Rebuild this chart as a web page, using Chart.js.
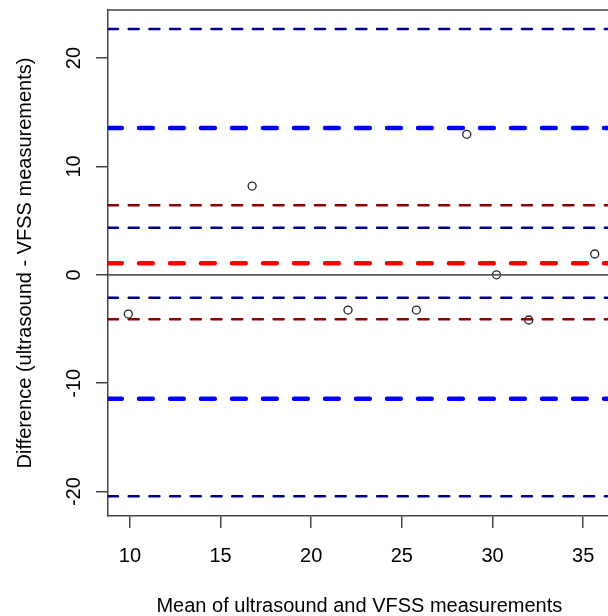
<!DOCTYPE html>
<html>
<head>
<meta charset="utf-8">
<script src="https://cdn.jsdelivr.net/npm/chart.js@4.4.1/dist/chart.umd.min.js"></script>
<style>
  html, body { margin: 0; padding: 0; background: #fff; }
  #wrap { width: 608px; height: 616px; overflow: hidden; position: relative; }
  canvas { display: block; }
</style>
</head>
<body>
<div id="wrap"><canvas id="chart" width="616" height="616"></canvas></div>
<script>
// Bland-Altman data: mean vs difference
const meanVals = [9.91, 16.74, 22.03, 25.80, 28.58, 30.22, 32.00, 35.64];
const diffVals = [-3.62, 8.19, -3.25, -3.25, 12.96, 0.0, -4.17, 1.92];

// horizontal reference lines
const zeroLine = [0];
const biasLine = [1.06];
const loaLines = [13.54, -11.43];
const biasCiLines = [6.41, -4.11];
const loaCiLines = [22.68, 4.35, -2.11, -20.43];

// axes
const xTicks = [10, 15, 20, 25, 30, 35];
const yTicks = [-20, -10, 0, 10, 20];
const xRange = [8.79, 36.52];
const yRange = [-22.25, 24.43];
const xTitle = 'Mean of ultrasound and VFSS measurements';
const yTitle = 'Difference (ultrasound - VFSS measurements)';

const FONT = '20px "Liberation Sans", Arial, sans-serif';
const AXIS_COLOR = '#444';

function hLines(values, color, width, dash) {
  return values.map(v => ({
    type: 'line',
    data: [{ x: xRange[0], y: v }, { x: xRange[1], y: v }],
    borderColor: color,
    borderWidth: width,
    borderDash: dash,
    borderCapStyle: 'round',
    pointRadius: 0,
    fill: false,
    order: 0
  }));
}

const textPlugin = {
  id: 'rText',
  afterDraw(chart) {
    const ctx = chart.ctx;
    const area = chart.chartArea;
    const xs = chart.scales.x;
    const ys = chart.scales.y;
    ctx.save();
    // top border of the box
    ctx.strokeStyle = AXIS_COLOR;
    ctx.lineWidth = 1.5;
    ctx.beginPath();
    ctx.moveTo(area.left, area.top);
    ctx.lineTo(area.right, area.top);
    ctx.stroke();

    ctx.fillStyle = '#000';
    ctx.font = FONT;
    ctx.textAlign = 'center';
    ctx.textBaseline = 'alphabetic';

    xs.ticks.forEach(t => {
      ctx.fillText(String(t.value), xs.getPixelForValue(t.value), area.bottom + 45.5);
    });
    ys.ticks.forEach(t => {
      ctx.save();
      ctx.translate(area.left - 28, ys.getPixelForValue(t.value));
      ctx.rotate(-Math.PI / 2);
      ctx.fillText(String(t.value), 0, 0);
      ctx.restore();
    });

    ctx.fillText(xTitle, (area.left + area.right) / 2, area.bottom + 95.7);
    ctx.save();
    ctx.translate(30.5, (area.top + area.bottom) / 2);
    ctx.rotate(-Math.PI / 2);
    ctx.fillText(yTitle, 0, 0);
    ctx.restore();
    ctx.restore();
  }
};

const datasets = [
  ...hLines(zeroLine, '#595959', 1.8, []),
  ...hLines(loaCiLines, '#00008B', 2.5, [10, 10.7]),
  ...hLines(biasCiLines, '#8B0000', 2.5, [10, 10.7]),
  ...hLines(loaLines, '#0000FF', 4.5, [13.8, 17.2]),
  ...hLines(biasLine, '#FF0000', 4.5, [13.8, 17.2]),
  {
    type: 'scatter',
    data: meanVals.map((m, i) => ({ x: m, y: diffVals[i] })),
    pointStyle: 'circle',
    pointRadius: 4,
    pointBorderWidth: 1.3,
    pointBorderColor: '#222',
    pointBackgroundColor: 'rgba(0,0,0,0)',
    showLine: false,
    order: 1
  }
];

new Chart(document.getElementById('chart'), {
  type: 'scatter',
  data: { datasets },
  options: {
    responsive: false,
    animation: false,
    events: [],
    layout: { padding: { top: 10, right: 3, left: 0, bottom: 0 } },
    plugins: {
      legend: { display: false },
      tooltip: { enabled: false }
    },
    scales: {
      x: {
        type: 'linear',
        min: xRange[0],
        max: xRange[1],
        afterBuildTicks: s => { s.ticks = xTicks.map(v => ({ value: v })); },
        afterFit: s => { s.height = 100; },
        ticks: { display: false },
        grid: {
          drawOnChartArea: false,
          drawTicks: true,
          tickLength: 12,
          color: AXIS_COLOR,
          lineWidth: 1.5
        },
        border: { display: true, color: AXIS_COLOR, width: 1.5 }
      },
      y: {
        type: 'linear',
        min: yRange[0],
        max: yRange[1],
        afterBuildTicks: s => { s.ticks = yTicks.map(v => ({ value: v })); },
        afterFit: s => { s.width = 108; },
        ticks: { display: false },
        grid: {
          drawOnChartArea: false,
          drawTicks: true,
          tickLength: 12,
          color: AXIS_COLOR,
          lineWidth: 1.5
        },
        border: { display: true, color: AXIS_COLOR, width: 1.5 }
      }
    }
  },
  plugins: [textPlugin]
});
</script>
</body>
</html>
